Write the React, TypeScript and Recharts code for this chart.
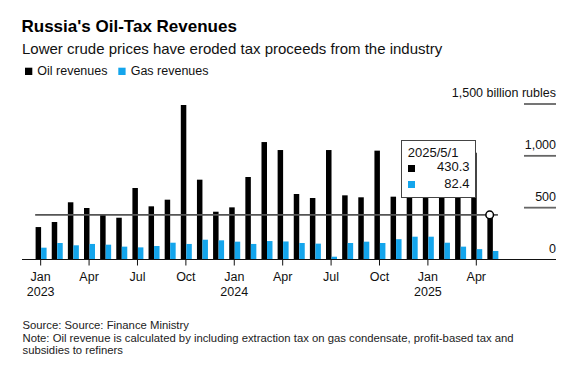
import React from 'react';
import { BarChart, Bar, XAxis, YAxis, Tooltip, ReferenceLine, ReferenceDot } from 'recharts';

const FONT = '"Liberation Sans", Arial, Helvetica, sans-serif';
const OIL_COLOR = '#000000';
const GAS_COLOR = '#14a5ec';

// monthly, Jan 2023 .. May 2025 (billion rubles)
const dates = [
  '2023/1/1', '2023/2/1', '2023/3/1', '2023/4/1', '2023/5/1', '2023/6/1',
  '2023/7/1', '2023/8/1', '2023/9/1', '2023/10/1', '2023/11/1', '2023/12/1',
  '2024/1/1', '2024/2/1', '2024/3/1', '2024/4/1', '2024/5/1', '2024/6/1',
  '2024/7/1', '2024/8/1', '2024/9/1', '2024/10/1', '2024/11/1', '2024/12/1',
  '2025/1/1', '2025/2/1', '2025/3/1', '2025/4/1', '2025/5/1',
];
const oilRevenues = [
  313, 362, 552, 497, 429, 403, 690, 513, 577, 1490, 770, 461,
  503, 796, 1133, 1056, 632, 593, 1056, 619, 600, 1050, 606, 600,
  900, 640, 680, 1030, 430.3,
];
const gasRevenues = [
  114, 159, 137, 150, 143, 124, 117, 130, 162, 150, 191, 185,
  172, 150, 178, 174, 159, 153, 27, 159, 172, 159, 196, 220,
  220, 162, 124, 100, 82.4,
];
const monthNames = ['Jan', 'Feb', 'Mar', 'Apr', 'May', 'Jun', 'Jul', 'Aug', 'Sep', 'Oct', 'Nov', 'Dec'];
const yTicks = [0, 500, 1000, 1500];

const rows = dates.map((date, i) => ({ date, oil: oilRevenues[i], gas: gasRevenues[i] }));
const lastIndex = rows.length - 1;
const last = rows[lastIndex];

const W = 584;
const H = 368;
const MARGIN = { top: 104, right: 28, bottom: 78.5, left: 22 };
const PLOT_RIGHT = W - MARGIN.right;
const AXIS_Y = 259.5;
const BAR = 5.5;

function MonthTick(props: any) {
  const { x, payload } = props;
  const [yr, mo] = String(payload.value).split('/');
  const m = Number(mo);
  if ((m - 1) % 3 !== 0) return <g />;
  return (
    <g>
      <line x1={x} x2={x} y1={AXIS_Y} y2={AXIS_Y + 6} stroke="#111" strokeWidth={1} />
      <text x={x} y={AXIS_Y + 21.5} textAnchor="middle" fontSize={12.5} fill="#111" fontFamily={FONT}>
        {monthNames[m - 1]}
      </text>
      {m === 1 && (
        <text x={x} y={AXIS_Y + 36.5} textAnchor="middle" fontSize={12.5} fill="#111" fontFamily={FONT}>
          {yr}
        </text>
      )}
    </g>
  );
}

function ValueTick(props: any) {
  const { y, payload } = props;
  const v = payload.value;
  const label = v === 1500 ? '1,500 billion rubles' : v.toLocaleString('en-US');
  return (
    <g>
      {v !== 0 && (
        <line x1={PLOT_RIGHT - 32} x2={PLOT_RIGHT} y1={y} y2={y} stroke="#666" strokeWidth={1.8} />
      )}
      <text x={PLOT_RIGHT} y={y - 7} textAnchor="end" fontSize={12.5} fill="#111" fontFamily={FONT}>
        {label}
      </text>
    </g>
  );
}

function TipBox(props: any) {
  const { payload, label } = props;
  if (!payload || !payload.length) return null;
  const oil = payload.find((p: any) => p.dataKey === 'oil');
  const gas = payload.find((p: any) => p.dataKey === 'gas');
  const text: React.CSSProperties = {
    position: 'absolute', fontSize: 13, lineHeight: '13px', color: '#111', fontFamily: FONT, whiteSpace: 'nowrap',
  };
  return (
    <div
      style={{
        position: 'relative', width: 75, height: 58, boxSizing: 'border-box',
        border: '1.5px solid #444', background: '#fff',
      }}
    >
      <div style={{ ...text, left: 5.8, top: 5.2 }}>{label}</div>
      <div style={{ position: 'absolute', left: 5.8, top: 23.5, width: 7.3, height: 7.3, background: OIL_COLOR }} />
      <div style={{ ...text, right: 5.5, top: 19.2 }}>{oil?.value}</div>
      <div style={{ position: 'absolute', left: 5.8, top: 40.2, width: 7.3, height: 7.3, background: GAS_COLOR }} />
      <div style={{ ...text, right: 5.5, top: 35.8 }}>{gas?.value}</div>
    </div>
  );
}

export default function App() {
  return (
    <div style={{ position: 'absolute', left: 0, top: 0, width: W, height: H, background: '#fff' }}>
      <svg width={W} height={H} style={{ position: 'absolute', left: 0, top: 0 }} fontFamily={FONT}>
        <text x={21.5} y={32.3} fontSize={17} fontWeight="bold" fill="#000">Russia's Oil-Tax Revenues</text>
        <text x={22} y={54} fontSize={15} fill="#111">Lower crude prices have eroded tax proceeds from the industry</text>
        <rect x={25} y={67.7} width={7.3} height={7.3} fill={OIL_COLOR} />
        <text x={37.3} y={75} fontSize={12.5} fill="#111">Oil revenues</text>
        <rect x={118.3} y={67.7} width={7.3} height={7.3} fill={GAS_COLOR} />
        <text x={130.7} y={75} fontSize={12.5} fill="#111">Gas revenues</text>
        <text x={22.5} y={329} fontSize={11.3} fill="#222">Source: Source: Finance Ministry</text>
        <text x={22.5} y={341.7} fontSize={11.3} fill="#222">
          Note: Oil revenue is calculated by including extraction tax on gas condensate, profit-based tax and
        </text>
        <text x={22.5} y={354} fontSize={11.3} fill="#222">subsidies to refiners</text>
      </svg>
      <div style={{ position: 'absolute', left: 0, top: 0 }}>
        <BarChart width={W} height={H} data={rows} margin={MARGIN} barGap={0} barSize={BAR}>
          <XAxis
            dataKey="date"
            interval={0}
            padding={{ left: 10.6, right: 55.5 }}
            tickLine={false}
            tickSize={6}
            tickMargin={0}
            height={30}
            axisLine={{ stroke: '#111', strokeWidth: 1 }}
            tick={<MonthTick />}
          />
          <YAxis
            orientation="right"
            mirror
            domain={[0, 1500]}
            ticks={yTicks}
            axisLine={false}
            tickLine={false}
            tickSize={0}
            tickMargin={0}
            tick={<ValueTick />}
          />
          <Bar dataKey="oil" fill={OIL_COLOR} isAnimationActive={false} />
          <Bar dataKey="gas" fill={GAS_COLOR} isAnimationActive={false} />
          <ReferenceLine
            segment={[{ x: dates[0], y: last.oil }, { x: last.date, y: last.oil }]}
            shape={(p: any) => (
              <line x1={p.x1 - BAR} x2={p.x2 + BAR} y1={p.y1} y2={p.y2} stroke="#555" strokeWidth={1.8} />
            )}
          />
          <ReferenceDot
            x={last.date}
            y={last.oil}
            shape={(p: any) => (
              <circle cx={p.cx - BAR / 2} cy={p.cy} r={3.8} fill="#fff" stroke="#000" strokeWidth={1.5} />
            )}
          />
          <Tooltip
            defaultIndex={lastIndex}
            active
            cursor={false}
            position={{ x: 401, y: 140 }}
            content={<TipBox />}
            isAnimationActive={false}
          />
        </BarChart>
      </div>
    </div>
  );
}
